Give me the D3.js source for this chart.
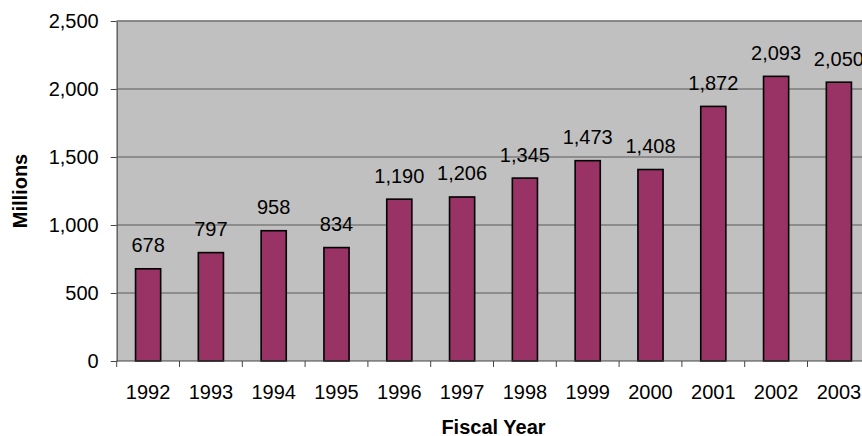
<!DOCTYPE html>
<html>
<head>
<meta charset="utf-8">
<script src="https://cdn.jsdelivr.net/npm/d3@7"></script>
<style>
  body { margin: 0; background: #fff; }
  svg { display: block; font-family: "Liberation Sans", Arial, sans-serif; }
</style>
</head>
<body>
<div id="container"></div>
<script>
// Data
const years = ["1992", "1993", "1994", "1995", "1996", "1997", "1998", "1999", "2000", "2001", "2002", "2003"];
const values = [678, 797, 958, 834, 1190, 1206, 1345, 1473, 1408, 1872, 2093, 2050];
const yTicks = [0, 500, 1000, 1500, 2000, 2500];

const width = 862;
const height = 436;
// plot area runs past the right edge of the window, as in the original
const plotLeft = 116.7;
const plotRight = 870.3;
const plotTop = 21;
const plotBottom = 361;

const svg = d3.select("#container").append("svg")
  .attr("width", width)
  .attr("height", height);

// category scale (ticks at boundaries) and bar scale
const xCat = d3.scaleBand().domain(years).range([plotLeft, plotRight]).padding(0);
const x = d3.scaleBand().domain(years).range([plotLeft, plotRight])
  .paddingInner(0.6).paddingOuter(0.3);

const y = d3.scaleLinear().domain([0, 2500]).range([plotBottom, plotTop]);

// plot background
svg.append("rect")
  .attr("x", plotLeft)
  .attr("y", plotTop)
  .attr("width", plotRight - plotLeft)
  .attr("height", plotBottom - plotTop)
  .attr("fill", "#c0c0c0");

// gridlines
svg.append("g")
  .selectAll("line")
  .data(yTicks.filter(d => d > 0))
  .join("line")
  .attr("x1", plotLeft)
  .attr("x2", plotRight)
  .attr("y1", d => y(d))
  .attr("y2", d => y(d))
  .attr("stroke", "#5a5a5a")
  .attr("stroke-width", 1);

// bars
svg.append("g")
  .selectAll("rect")
  .data(values)
  .join("rect")
  .attr("x", (d, i) => x(years[i]))
  .attr("y", d => y(d))
  .attr("width", x.bandwidth())
  .attr("height", d => y(0) - y(d))
  .attr("fill", "#993366")
  .attr("stroke", "#000")
  .attr("stroke-width", 1.6);

// value labels
svg.append("g")
  .selectAll("text")
  .data(values)
  .join("text")
  .attr("x", (d, i) => x(years[i]) + x.bandwidth() / 2)
  .attr("y", d => y(d) - 16.5)
  .attr("text-anchor", "middle")
  .attr("font-size", "20px")
  .attr("fill", "#000")
  .text(d => d3.format(",")(d));

// y axis
const yAxis = svg.append("g")
  .attr("transform", `translate(${plotLeft},0)`)
  .call(d3.axisLeft(y).tickValues(yTicks).tickFormat(d3.format(","))
    .tickSizeInner(6).tickSizeOuter(0).tickPadding(12));
yAxis.select(".domain").attr("stroke", "#555").attr("stroke-width", 1.3);
yAxis.selectAll(".tick line").attr("stroke", "#444");
yAxis.selectAll("text")
  .attr("font-size", "20px")
  .attr("font-family", "Liberation Sans, Arial, sans-serif")
  .attr("fill", "#000");

// x axis: labels at centres, tick marks at category boundaries
const xAxis = svg.append("g")
  .attr("transform", `translate(0,${plotBottom})`)
  .call(d3.axisBottom(xCat).tickSize(0).tickPadding(23.5));
xAxis.select(".domain").remove();
xAxis.selectAll("text")
  .attr("font-size", "20px")
  .attr("font-family", "Liberation Sans, Arial, sans-serif")
  .attr("fill", "#000");

svg.append("line")
  .attr("x1", plotLeft)
  .attr("x2", plotRight)
  .attr("y1", plotBottom)
  .attr("y2", plotBottom)
  .attr("stroke", "#444");

svg.append("g")
  .selectAll("line")
  .data(years.map(d => xCat(d)).concat([plotRight]))
  .join("line")
  .attr("x1", d => d)
  .attr("x2", d => d)
  .attr("y1", plotBottom)
  .attr("y2", plotBottom + 6)
  .attr("stroke", "#444");

// top border of the plot area
svg.append("line")
  .attr("x1", plotLeft)
  .attr("x2", plotRight)
  .attr("y1", plotTop)
  .attr("y2", plotTop)
  .attr("stroke", "#808080")
  .attr("stroke-width", 1.3);

// axis titles
svg.append("text")
  .attr("transform", `translate(27,${(plotTop + plotBottom) / 2}) rotate(-90)`)
  .attr("text-anchor", "middle")
  .attr("font-size", "20px")
  .attr("font-weight", "bold")
  .text("Millions");

svg.append("text")
  .attr("x", (plotLeft + plotRight) / 2)
  .attr("y", 434)
  .attr("text-anchor", "middle")
  .attr("font-size", "20px")
  .attr("font-weight", "bold")
  .text("Fiscal Year");
</script>
</body>
</html>
